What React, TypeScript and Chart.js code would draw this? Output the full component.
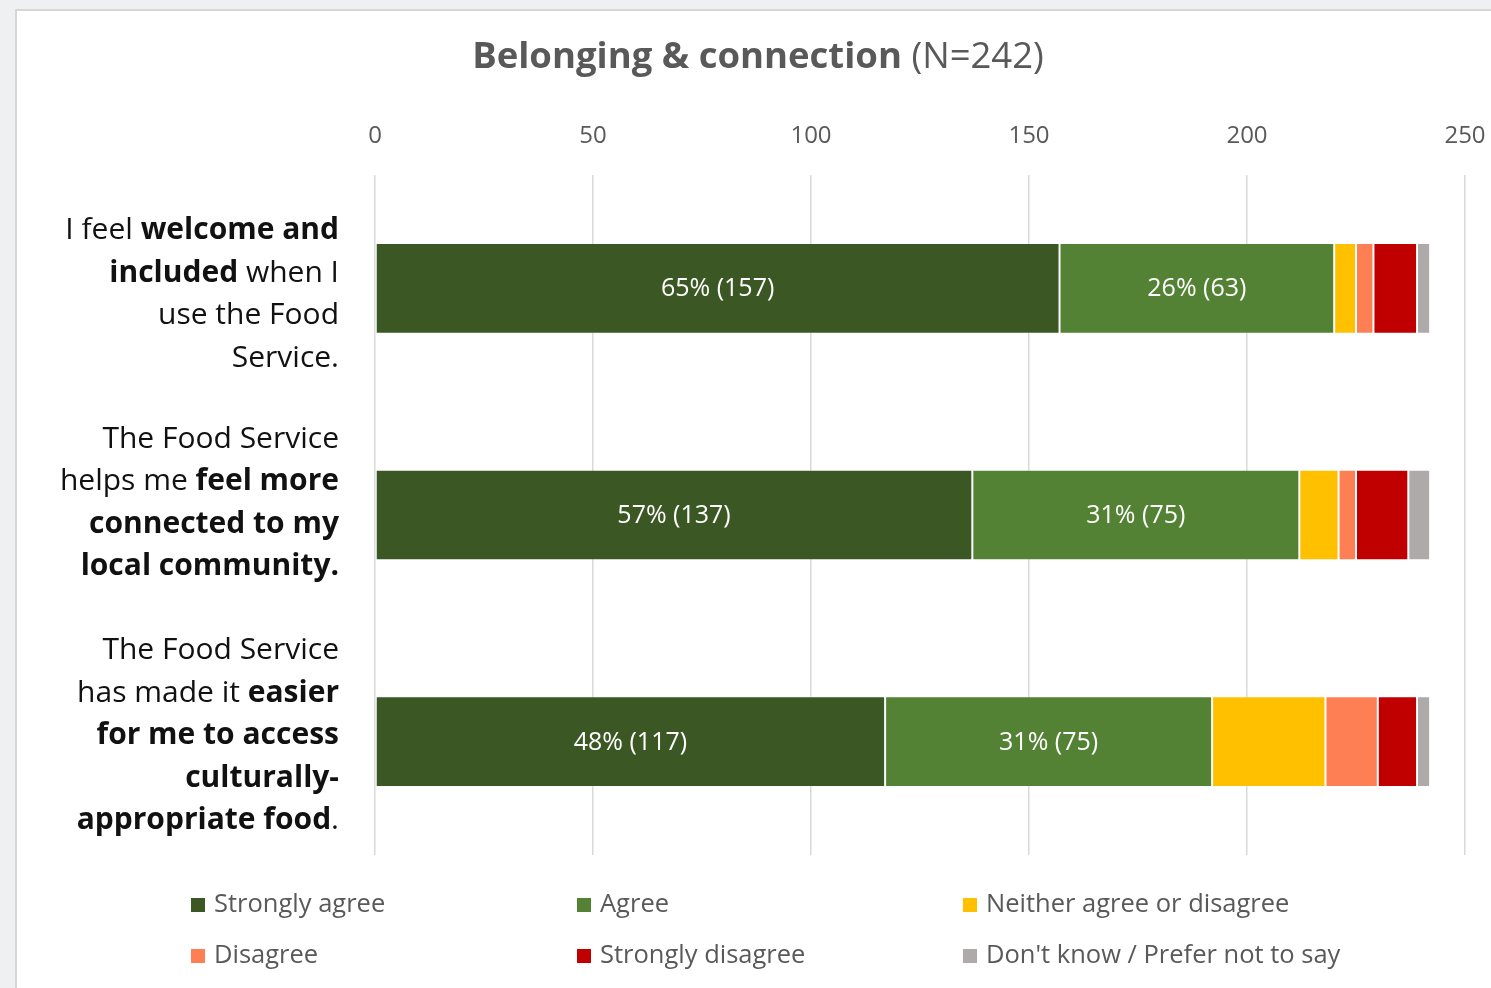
import React, { useEffect, useRef } from "react";
import { Chart, registerables } from "chart.js";

Chart.register(...registerables);

const FONT = '"Open Sans", "Noto Sans", sans-serif';
const TOTAL = 242;

// Statement labels, one array of [text, bold] pieces per line
const statementLines: [string, boolean][][][] = [
  [
    [["I feel ", false], ["welcome and", true]],
    [["included", true], [" when I", false]],
    [["use the Food", false]],
    [["Service.", false]],
  ],
  [
    [["The Food Service", false]],
    [["helps me ", false], ["feel more", true]],
    [["connected to my", true]],
    [["local community.", true]],
  ],
  [
    [["The Food Service", false]],
    [["has made it ", false], ["easier", true]],
    [["for me to access", true]],
    [["culturally-", true]],
    [["appropriate food", true], [".", false]],
  ],
];
const categories = statementLines.map((lines) =>
  lines.map((l) => l.map((p) => p[0]).join("")).join(" ")
);

const responseLabels = [
  "Strongly agree",
  "Agree",
  "Neither agree or disagree",
  "Disagree",
  "Strongly disagree",
  "Don't know / Prefer not to say",
];
const stronglyAgree = [157, 137, 117];
const agree = [63, 75, 75];
const neither = [5, 9, 26];
const disagree = [4, 4, 12];
const stronglyDisagree = [10, 12, 9];
const dontKnow = [3, 5, 3];
const responseColors = ["#3a5724", "#548235", "#ffc000", "#ff7f55", "#c00000", "#aeaaaa"];
const xMin = 0;
const xMax = 250;
const xStep = 50;

const seriesValues = [stronglyAgree, agree, neither, disagree, stronglyDisagree, dontKnow];
const labelledSeries = [0, 1];

// Vertical nudge of each wrapped statement block relative to its bar
const blockNudge = [6, -12, -6];

const statementPlugin = {
  id: "statementLabels",
  afterDraw(chart: any) {
    const ctx = chart.ctx;
    const y = chart.scales.y;
    const rightX = 339;
    const size = 30;
    const lineH = 42.5;
    ctx.save();
    ctx.fillStyle = "#111111";
    ctx.textBaseline = "middle";
    ctx.textAlign = "left";
    statementLines.forEach((lines, i) => {
      const cy = y.getPixelForValue(i) + blockNudge[i];
      const top = cy - ((lines.length - 1) * lineH) / 2;
      lines.forEach((parts, li) => {
        const widths = parts.map(([t, b]) => {
          ctx.font = `${b ? "bold" : "normal"} ${size}px ${FONT}`;
          return ctx.measureText(t).width;
        });
        let x = rightX - widths.reduce((a, c) => a + c, 0);
        parts.forEach(([t, b], pi) => {
          ctx.font = `${b ? "bold" : "normal"} ${size}px ${FONT}`;
          ctx.fillText(t, x, top + li * lineH);
          x += widths[pi];
        });
      });
    });
    ctx.restore();
  },
};

const valueLabelPlugin = {
  id: "valueLabels",
  afterDatasetsDraw(chart: any) {
    const ctx = chart.ctx;
    ctx.save();
    ctx.fillStyle = "#ffffff";
    ctx.font = `normal 25px ${FONT}`;
    ctx.textAlign = "center";
    ctx.textBaseline = "middle";
    labelledSeries.forEach((di) => {
      const meta = chart.getDatasetMeta(di);
      meta.data.forEach((bar: any, i: number) => {
        const v = seriesValues[di][i];
        const pct = Math.round((v / TOTAL) * 100);
        ctx.fillText(`${pct}% (${v})`, (bar.x + bar.base) / 2, bar.y + 1);
      });
    });
    ctx.restore();
  },
};

const titleLegendPlugin = {
  id: "titleLegend",
  afterDraw(chart: any) {
    const ctx = chart.ctx;
    ctx.save();
    // Title: bold heading followed by the sample size
    const bold = "Belonging & connection";
    const normal = " (N=242)";
    ctx.fillStyle = "#595959";
    ctx.textBaseline = "middle";
    ctx.textAlign = "left";
    ctx.font = `bold 36.5px ${FONT}`;
    const wb = ctx.measureText(bold).width;
    ctx.font = `normal 36.5px ${FONT}`;
    const wn = ctx.measureText(normal).width;
    const x = 758 - (wb + wn) / 2;
    ctx.font = `bold 36.5px ${FONT}`;
    ctx.fillText(bold, x, 58);
    ctx.font = `normal 36.5px ${FONT}`;
    ctx.fillText(normal, x + wb, 58);

    // Legend: three columns, two rows
    const colX = [191, 577, 963];
    const rowY = [905, 956];
    ctx.font = `normal 25.5px ${FONT}`;
    responseLabels.forEach((label, i) => {
      const cx = colX[i % 3];
      const cy = rowY[Math.floor(i / 3)];
      ctx.fillStyle = responseColors[i];
      ctx.fillRect(cx, cy - 7, 14, 14);
      ctx.fillStyle = "#595959";
      ctx.fillText(label, cx + 23, cy);
    });
    ctx.restore();
  },
};

export default function App() {
  const canvasRef = useRef<HTMLCanvasElement | null>(null);

  useEffect(() => {
    const canvas = canvasRef.current;
    if (!canvas) return;
    const chart = new Chart(canvas, {
      type: "bar",
      data: {
        labels: categories,
        datasets: seriesValues.map((vals, i) => ({
          label: responseLabels[i],
          data: vals,
          backgroundColor: responseColors[i],
          borderColor: "rgba(255,255,255,0.14)",
          borderWidth: 1,
          borderSkipped: false,
          barPercentage: 0.4,
          categoryPercentage: 1,
        })),
      },
      options: {
        indexAxis: "y",
        responsive: false,
        maintainAspectRatio: false,
        animation: false,
        devicePixelRatio: 1,
        layout: { padding: { left: 0, right: 26, top: 110, bottom: 133 } },
        plugins: {
          legend: { display: false },
          title: { display: false },
          tooltip: { enabled: false },
        },
        scales: {
          x: {
            stacked: true,
            position: "top",
            min: xMin,
            max: xMax,
            ticks: {
              stepSize: xStep,
              color: "#595959",
              font: { family: FONT, size: 24 },
              padding: 24,
            },
            grid: { color: "#d9d9d9", lineWidth: 1.5, drawTicks: false },
            border: { display: false },
            afterFit: (s: any) => {
              s.height = 65;
              s.paddingLeft = 0;
              s.paddingRight = 0;
            },
          },
          y: {
            stacked: true,
            ticks: { display: false },
            grid: { display: false },
            border: { display: false },
            afterFit: (s: any) => {
              s.width = 375;
            },
          },
        },
      } as any,
      plugins: [statementPlugin, valueLabelPlugin, titleLegendPlugin],
    });
    return () => chart.destroy();
  }, []);

  return (
    <div
      style={{
        position: "fixed",
        left: 0,
        top: 0,
        width: 1491,
        height: 988,
        background: "#eff0f2",
        overflow: "hidden",
      }}
    >
      <div
        style={{
          position: "absolute",
          left: 15,
          top: 9,
          width: 1520,
          height: 1020,
          background: "#ffffff",
          border: "2px solid #d6d6d6",
        }}
      />
      <canvas
        ref={canvasRef}
        width={1491}
        height={988}
        style={{ position: "absolute", left: 0, top: 0, width: 1491, height: 988 }}
      />
    </div>
  );
}
